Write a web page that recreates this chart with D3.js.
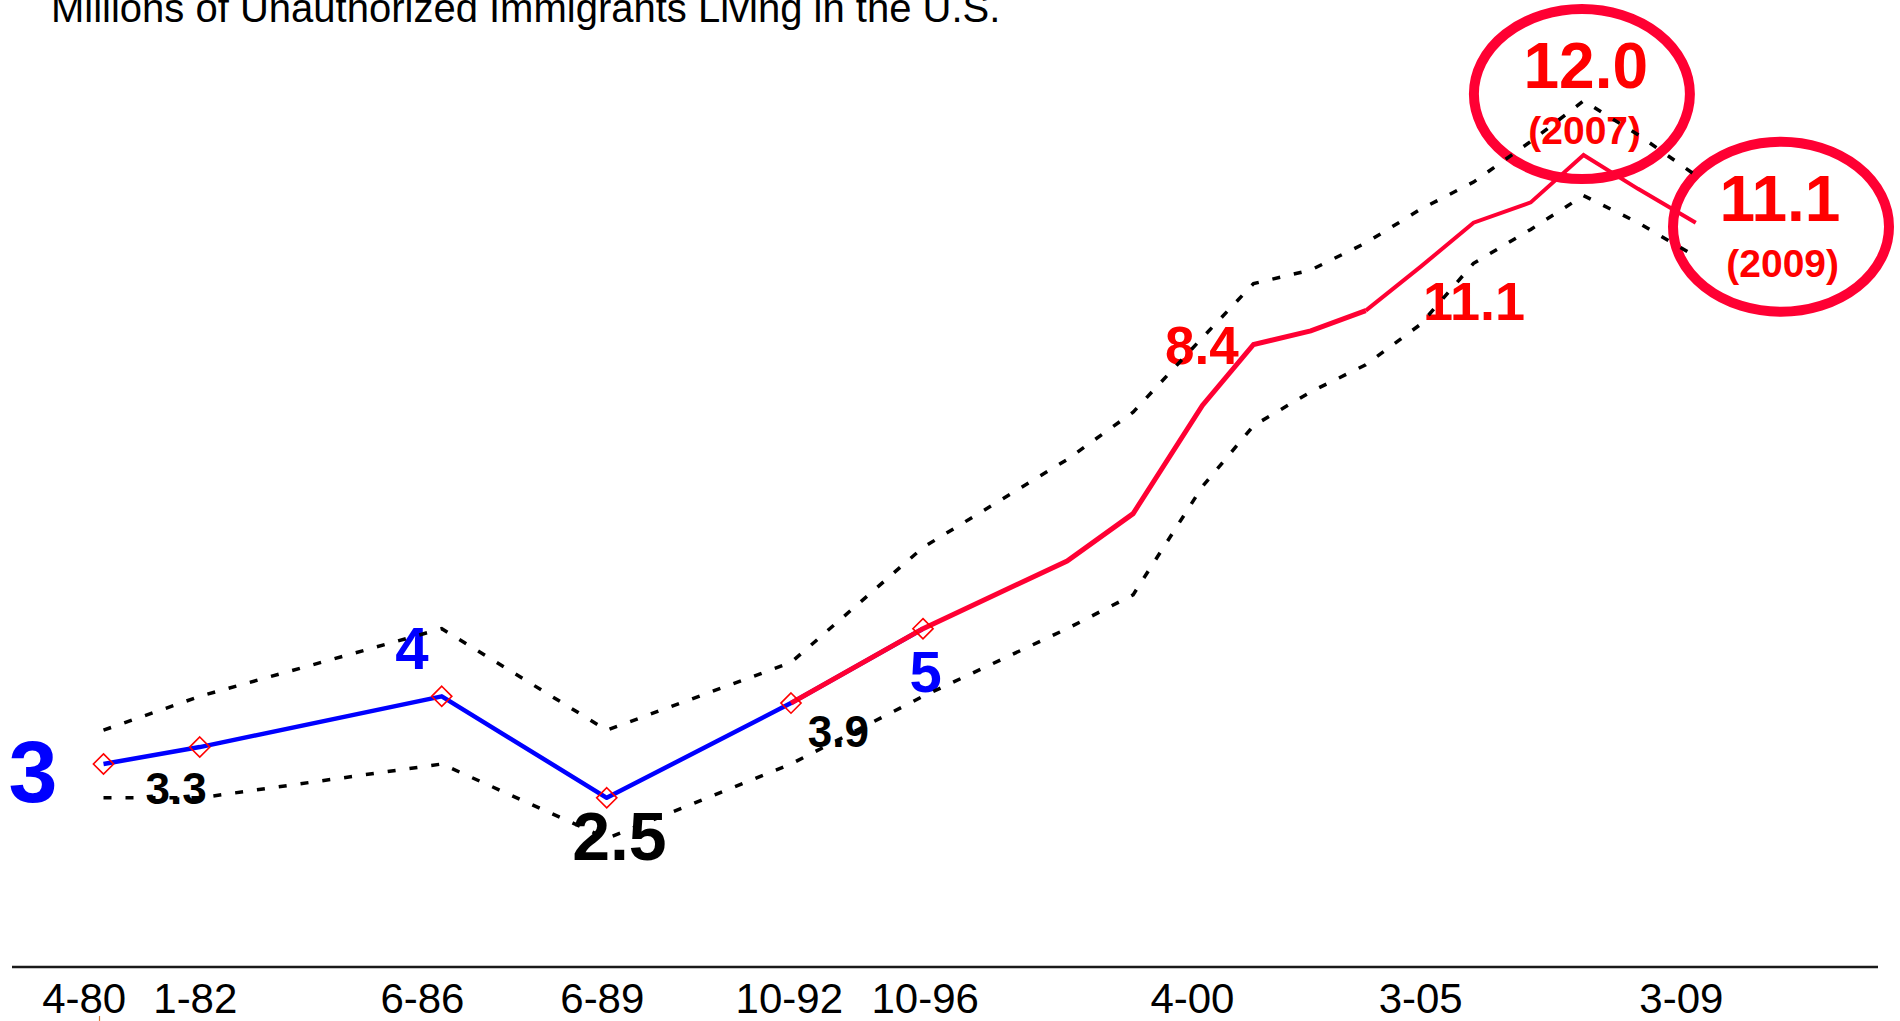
<!DOCTYPE html>
<html>
<head>
<meta charset="utf-8">
<script src="https://cdn.jsdelivr.net/npm/d3@7"></script>
<style>
  html, body { margin: 0; padding: 0; background: #ffffff; }
  svg { display: block; }
  text { font-family: "Liberation Sans", Arial, Helvetica, sans-serif; }
</style>
</head>
<body>
<svg id="chart" width="1900" height="1021"></svg>
<script>
// ---------------- DATA ----------------
const titleText = "Millions of Unauthorized Immigrants Living in the U.S.";

// survey dates (fractional years) of each estimate
const years    = [1980.25, 1982.0, 1986.4, 1989.4, 1992.75, 1995.15, 1997.77, 1998.97, 2000.23, 2001.16, 2002.2, 2003.2, 2004.2, 2005.16, 2006.2, 2007.16, 2008.15, 2009.2];
// central estimate (millions)
const estimate = [3.0, 3.25, 4.0, 2.5, 3.9, 5.0, 6.0, 6.7, 8.3, 9.2, 9.4, 9.7, 10.35, 11.0, 11.3, 12.0, 11.5, 11.0];
// upper and lower bounds (dotted)
const upperBound = [3.5, 4.0, 5.0, 3.5, 4.5, 6.2, 7.5, 8.2, 9.3, 10.1, 10.3, 10.7, 11.2, 11.6, 12.2, 12.8, 12.3, 11.7];
const lowerBound = [2.5, 2.5, 3.0, 1.9, 3.0, 4.0, 5.0, 5.5, 7.1, 8.0, 8.5, 8.9, 9.5, 10.4, 10.9, 11.4, 11.0, 10.5];

// which points belong to the blue (early) series / carry markers
const blueCount = 6;      // first 6 points drawn in blue with diamond markers
const redStart = 4;       // red series starts at the 10-92 point
const redThinStart = 11;  // thinner red after 2003

// x-axis tick labels and where they sit (year units)
const tickLabels = ["4-80", "1-82", "6-86", "6-89", "10-92", "10-96", "4-00", "3-05", "3-09"];
const tickYears  = [1979.89, 1981.91, 1986.04, 1989.31, 1992.71, 1995.18, 2000.04, 2004.19, 2008.93];

// value annotations: text, anchor year, anchor value (baseline), colour group
const annoText  = ["3", "3.3", "4", "2.5", "3.9", "5", "8.4", "11.1", "12.0", "(2007)", "11.1", "(2009)"];
const annoYear  = [1978.97, 1981.57, 1985.86, 1989.63, 1993.61, 1995.20, 2000.22, 2005.17, 2007.20, 2007.18, 2010.73, 2010.78];
const annoValue = [2.44, 2.41, 4.40, 1.58, 3.25, 4.06, 8.91, 9.56, 12.99, 12.16, 11.02, 10.20];
const annoGroup = ["blue", "black", "blue", "black", "black", "blue", "red", "red", "red", "red", "red", "red"];

// highlight circles (centre in data units)
const circleYear  = [2007.13, 2010.75];
const circleValue = [12.90, 10.94];

// ---------------- STYLE ----------------
const annoSize = [88, 44, 60, 68, 44, 58, 53, 54, 64, 39, 64, 39];
const groupColor = { blue: "#0000ff", black: "#000000", red: "#ff0000" };

// ---------------- SCALES ----------------
const svg = d3.select("#chart");
const x = d3.scaleLinear().domain([1980, 2010]).range([89.75, 1739.75]);
const y = d3.scaleLinear().domain([0, 12]).range([967, 155]);

const pts = years.map((t, i) => ({ t, v: estimate[i], hi: upperBound[i], lo: lowerBound[i], i }));

// ---------------- TITLE ----------------
svg.append("text")
  .attr("x", 51).attr("y", 22)
  .attr("font-size", 40)
  .attr("fill", "#000")
  .text(titleText);

// ---------------- AXIS ----------------
svg.append("line")
  .attr("x1", 12).attr("x2", 1878)
  .attr("y1", y(0)).attr("y2", y(0))
  .attr("stroke", "#1a1a1a").attr("stroke-width", 2.5);

const xAxis = d3.axisBottom(x)
  .tickValues(tickYears)
  .tickFormat((d, i) => tickLabels[i])
  .tickSize(0)
  .tickPadding(0);

const axisG = svg.append("g")
  .attr("transform", `translate(0, ${y(0)})`)
  .call(xAxis);
axisG.select(".domain").remove();
axisG.selectAll("text")
  .attr("font-size", 42)
  .attr("font-family", "'Liberation Sans', Arial, sans-serif")
  .attr("fill", "#000")
  .attr("dy", null)
  .attr("y", 46);

// small orange mark below first label
svg.append("line")
  .attr("x1", x(years[0]) - 4).attr("x2", x(years[0]) - 4)
  .attr("y1", 1016).attr("y2", 1021)
  .attr("stroke", "#e07a30").attr("stroke-width", 1.2);

// ---------------- HIGHLIGHT CIRCLES ----------------
svg.selectAll("ellipse.hl")
  .data(circleYear.map((t, i) => ({ t, v: circleValue[i] })))
  .join("ellipse")
  .attr("class", "hl")
  .attr("cx", d => x(d.t)).attr("cy", d => y(d.v))
  .attr("rx", 108).attr("ry", 85)
  .attr("fill", "none")
  .attr("stroke", "#ff0033")
  .attr("stroke-width", 10);

// ---------------- ANNOTATIONS ----------------
svg.selectAll("text.anno")
  .data(annoText.map((s, i) => ({ s, t: annoYear[i], v: annoValue[i], g: annoGroup[i], fs: annoSize[i] })))
  .join("text")
  .attr("class", "anno")
  .attr("x", d => x(d.t)).attr("y", d => y(d.v))
  .attr("text-anchor", "middle")
  .attr("font-weight", "bold")
  .attr("font-size", d => d.fs)
  .attr("fill", d => groupColor[d.g])
  .text(d => d.s);

// ---------------- DOTTED BOUNDS ----------------
const hiLine = d3.line().x(d => x(d.t)).y(d => y(d.hi));
const loLine = d3.line().x(d => x(d.t)).y(d => y(d.lo));
[hiLine, loLine].forEach(gen => {
  svg.append("path")
    .datum(pts)
    .attr("d", gen)
    .attr("fill", "none")
    .attr("stroke", "#000")
    .attr("stroke-width", 3.5)
    .attr("stroke-dasharray", "8,14");
});

// ---------------- MAIN LINES ----------------
const mainLine = d3.line().x(d => x(d.t)).y(d => y(d.v));

svg.append("path")
  .datum(pts.slice(0, blueCount))
  .attr("d", mainLine)
  .attr("fill", "none")
  .attr("stroke", "#0000ff")
  .attr("stroke-width", 4.5)
  .attr("stroke-linejoin", "round");

svg.append("path")
  .datum(pts.slice(redStart, redThinStart + 1))
  .attr("d", mainLine)
  .attr("fill", "none")
  .attr("stroke", "#ff0033")
  .attr("stroke-width", 5)
  .attr("stroke-linejoin", "miter");

svg.append("path")
  .datum(pts.slice(redThinStart))
  .attr("d", mainLine)
  .attr("fill", "none")
  .attr("stroke", "#ff0033")
  .attr("stroke-width", 4)
  .attr("stroke-linejoin", "miter");

// ---------------- DIAMOND MARKERS ----------------
const diamond = d3.symbol().type(d3.symbolDiamond2).size(260);
svg.selectAll("path.mk")
  .data(pts.slice(0, blueCount))
  .join("path")
  .attr("class", "mk")
  .attr("transform", d => `translate(${x(d.t)},${y(d.v)})`)
  .attr("d", diamond)
  .attr("fill", "none")
  .attr("stroke", "#ff0000")
  .attr("stroke-width", 1.6);
</script>
</body>
</html>
